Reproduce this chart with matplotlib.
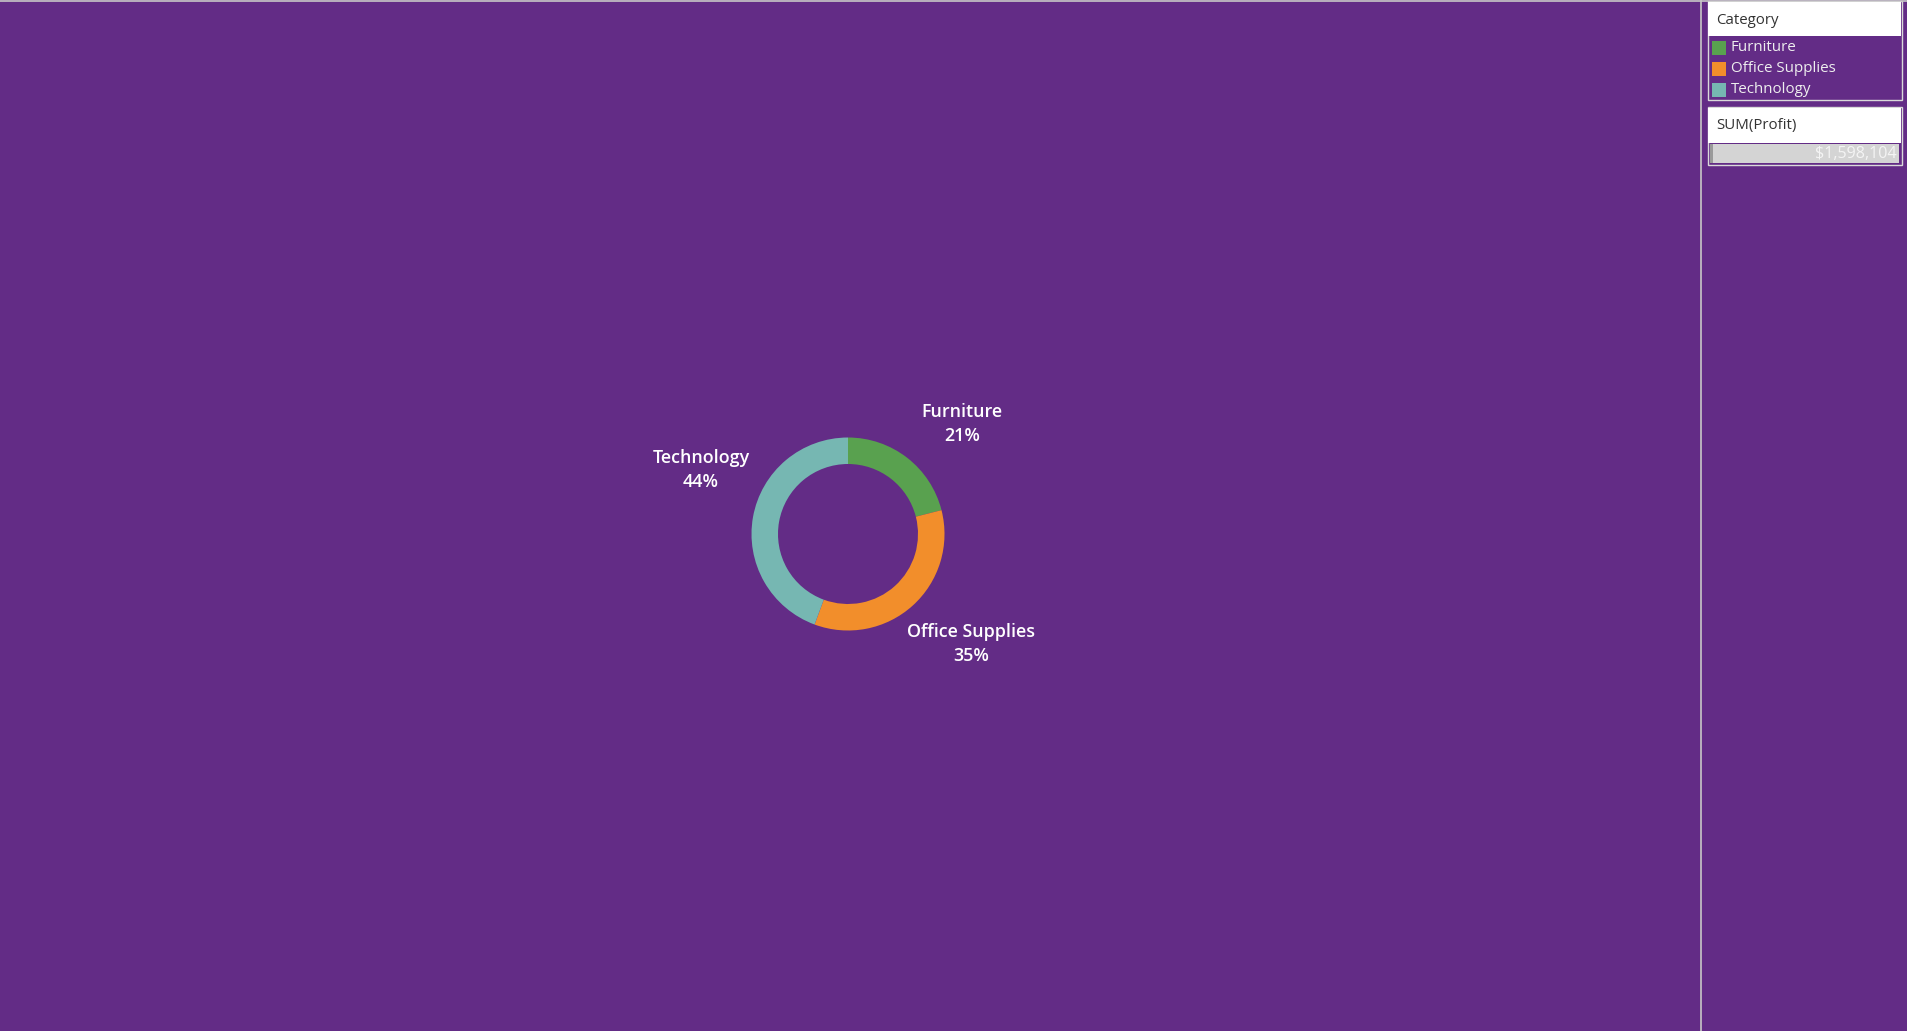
import matplotlib
matplotlib.use("Agg")
import matplotlib.pyplot as plt
from matplotlib.patches import Rectangle

plt.rcParams['font.family'] = ['Open Sans', 'DejaVu Sans']

# data
categories = ['Furniture', 'Office Supplies', 'Technology']
profit = [336000, 553000, 709104]
colors = ['#59A14F', '#F28E2B', '#76B7B2']

W, H = 1908, 1031
bg = '#632C86'

def Y(p):
    # pixel row (from top) -> data y
    return H - p

fig = plt.figure(figsize=(W / 100, H / 100), dpi=100, facecolor=bg)
ax = fig.add_axes([0, 0, 1, 1])
ax.set_facecolor(bg)

# donut
ax.pie(profit, colors=colors, startangle=90, counterclock=False,
       radius=96.5, center=(848, Y(534)),
       wedgeprops=dict(width=26.5, linewidth=0))

total = sum(profit)
label_pos = {'Furniture': (962, 424), 'Office Supplies': (971, 644), 'Technology': (701, 470)}
for cat, val in zip(categories, profit):
    x, y = label_pos[cat]
    ax.text(x, Y(y), f"{cat}\n{round(val / total * 100)}%", ha='center', va='center',
            color='white', fontsize=12.9, linespacing=1.4, fontweight='semibold')

# panel separator and top line
ax.plot([1701, 1701], [0, H], color='#c8c8c8', lw=1.2)
ax.plot([0, W], [Y(0.5), Y(0.5)], color='#c8c8c8', lw=1.2)

# Category legend
ax.add_patch(Rectangle((1708, Y(100)), 194, 99, facecolor=bg, edgecolor='#d9d9d9', lw=1))
ax.add_patch(Rectangle((1708.5, Y(36)), 193, 35, facecolor='white', edgecolor='none'))
ax.text(1716, Y(20), 'Category', ha='left', va='center', color='#333333', fontsize=10.8)
for i, (cat, c) in enumerate(zip(categories, colors)):
    yy = 47.5 + i * 21
    ax.add_patch(Rectangle((1712, Y(yy + 7)), 14, 14, facecolor=c, edgecolor='none'))
    ax.text(1731, Y(yy), cat, ha='left', va='center', color='#eeeeee', fontsize=10.9)

# SUM(Profit) legend
ax.add_patch(Rectangle((1708, Y(165)), 194, 58, facecolor=bg, edgecolor='#d9d9d9', lw=1))
ax.add_patch(Rectangle((1708.5, Y(143)), 193, 35, facecolor='white', edgecolor='none'))
ax.text(1716, Y(126), 'SUM(Profit)', ha='left', va='center', color='#333333', fontsize=10.8)
ax.add_patch(Rectangle((1710, Y(163)), 189, 19, facecolor='#d4d4d4', edgecolor='none'))
ax.add_patch(Rectangle((1710, Y(163)), 3, 19, facecolor='#9a9a9a', edgecolor='none'))
ax.text(1897, Y(154), f"${total:,}", ha='right', va='center', color='#f4f4f4', fontsize=11.6)

ax.set_xlim(0, W)
ax.set_ylim(0, H)
ax.set_aspect('equal')
ax.axis('off')

fig.savefig('out.png', dpi=100, facecolor=bg)
